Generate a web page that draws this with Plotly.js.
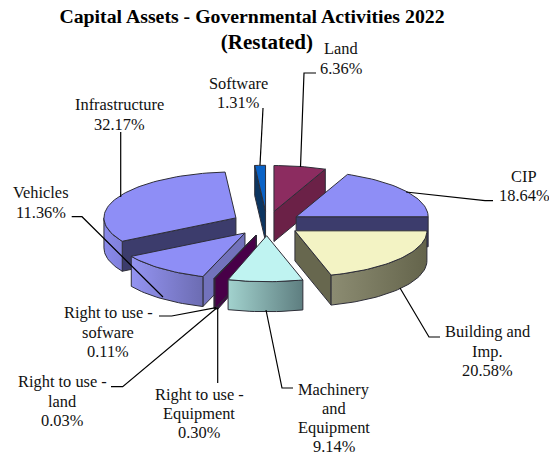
<!DOCTYPE html>
<html><head><meta charset="utf-8">
<script src="https://cdn.plot.ly/plotly-3.0.1.min.js"></script>
<style>html,body{margin:0;padding:0;background:#fff}#c{width:549px;height:455px}</style>
</head><body><div id="c"></div>
<script>
// ---- data ----
const categories = ["Land","CIP","Building and<br>Imp.","Machinery<br>and<br>Equipment","Right to use -<br>Equipment","Right to use -<br>land","Right to use -<br>sofware","Vehicles","Infrastructure","Software"];
const values = [6.36,18.64,20.58,9.14,0.30,0.03,0.11,11.36,32.17,1.31];
const topColors = ["#8c2c60","#8e8ef6","#f3f3c4","#bff3f1","#5c0a60","#5c0a60","#5c0a60","#8e8ef6","#8e8ef6","#0a62c6"];
const cutColors = ["#6b2147","#3c3c6c","#67674e","#70908f","#480048","#480048","#480048","#7272bc","#3c3c6c","#0c3560"];
const rimLeft  = ["#6b2147","#3c3c6c","#8c8c72","#a2d2ce","#480048","#480048","#480048","#9494f2","#8a8aea","#0c3560"];
const rimRight = ["#6b2147","#3c3c6c","#64644b","#5e7e80","#480048","#480048","#480048","#6c6cb2","#8080dc","#0c3560"];
const drawOrder = [9,0,1,8,7,2,4,5,6,3];
// label layout: centre of each label block
const labelX = [341,524,487,334,199,62,108,41,119,238];
const labelY = [58.5,186,351,418,413.5,401,332,202.5,114.5,93];
const lineStep = 19.3;
// leader polylines
const leaderX = [[300.5,304,316],[406,485,493],[400,429,440],[266,282,293],[217.7,217.7],[216.7,122.7,111],[216,171.7,159],[71.7,82,163],[120.7,120.7],[260,263]];
const leaderY = [[167,73,73],[192,200.7,200.7],[288,337,337],[310,388,388],[307.7,383],[308,386.7,386.7],[307.7,316,316],[216.7,216.7,297],[197,132],[165,108]];
// ---- pie geometry ----
const cx=267, cy=223.5, rx=132, ry=46, depth=30, explode=0.265;
const rad=d=>d*Math.PI/180;
const total=values.reduce((a,b)=>a+b,0);
let acc=0;
const wedges=values.map((v,i)=>{const a1=acc/total*360; acc+=v; const a2=acc/total*360;
  const m=rad((a1+a2)/2);
  return {i,a1,a2,ax:cx+explode*rx*Math.sin(m),ay:cy-explode*ry*Math.cos(m)};});
const rim=(w,a,dz=0)=>[w.ax+rx*Math.sin(rad(a)),w.ay-ry*Math.cos(rad(a))+dz];
const arc=(w,a,b,dz=0)=>{const n=Math.max(2,Math.ceil((b-a)/2)),p=[];for(let k=0;k<=n;k++)p.push(rim(w,a+(b-a)*k/n,dz));return p;};
const LINE={color:"#2e2e38",width:1};
function poly(pts,fill,grad){const t={type:"scatter",mode:"lines",x:pts.map(p=>p[0]).concat(pts[0][0]),y:pts.map(p=>p[1]).concat(pts[0][1]),
  fill:"toself",line:LINE,hoverinfo:"skip",showlegend:false};
  if(grad)t.fillgradient={type:"horizontal",colorscale:[[0,grad[0]],[1,grad[1]]]};else t.fillcolor=fill;return t;}
const traces=[];
drawOrder.forEach(idx=>{const w=wedges[idx];
  const face=a=>{const o=rim(w,a),b=rim(w,a,depth);return poly([[w.ax,w.ay],o,b,[w.ax,w.ay+depth]],cutColors[idx]);};
  if(Math.sin(rad(w.a2))>1e-6)traces.push(face(w.a2));
  if(Math.sin(rad(w.a1))<-1e-6)traces.push(face(w.a1));
  const s=Math.max(w.a1,90),e=Math.min(w.a2,270);
  if(e>s)traces.push(poly(arc(w,s,e).concat(arc(w,s,e,depth).reverse()),null,[rimLeft[idx],rimRight[idx]]));
  traces.push(poly([[w.ax,w.ay]].concat(arc(w,w.a1,w.a2)),topColors[idx]));
});
leaderX.forEach((x,i)=>traces.push({type:"scatter",mode:"lines",x:x,y:leaderY[i],line:{color:"#000",width:1.2},hoverinfo:"skip",showlegend:false}));
const annotations=[];
categories.forEach((c,i)=>{const lines=c.split("<br>").concat(values[i].toFixed(2)+"%");
  lines.forEach((t,k)=>annotations.push({x:labelX[i],y:labelY[i]+(k-(lines.length-1)/2)*lineStep,xref:"x",yref:"y",xanchor:"center",yanchor:"middle",showarrow:false,align:"center",
    text:t,font:{family:"Liberation Serif",size:16.4,color:"#111"}}));});
const pad="\u00A0".repeat(6);
const layout={width:549,height:455,margin:{l:0,r:0,t:0,b:0},paper_bgcolor:"#fff",plot_bgcolor:"#fff",showlegend:false,
  title:{text:"<b>Capital Assets - Governmental Activities 2022<br>"+pad+"<span style=\"font-size:21px\">(Restated)</span></b>",x:252/549,xanchor:"center",y:1-23/455,yanchor:"top",font:{family:"Liberation Serif",size:19.8,color:"#000"}},
  xaxis:{range:[0,549],visible:false,fixedrange:true},yaxis:{range:[455,0],visible:false,fixedrange:true},annotations};
Plotly.newPlot("c",traces,layout,{displayModeBar:false,staticPlot:true});
</script></body></html>
